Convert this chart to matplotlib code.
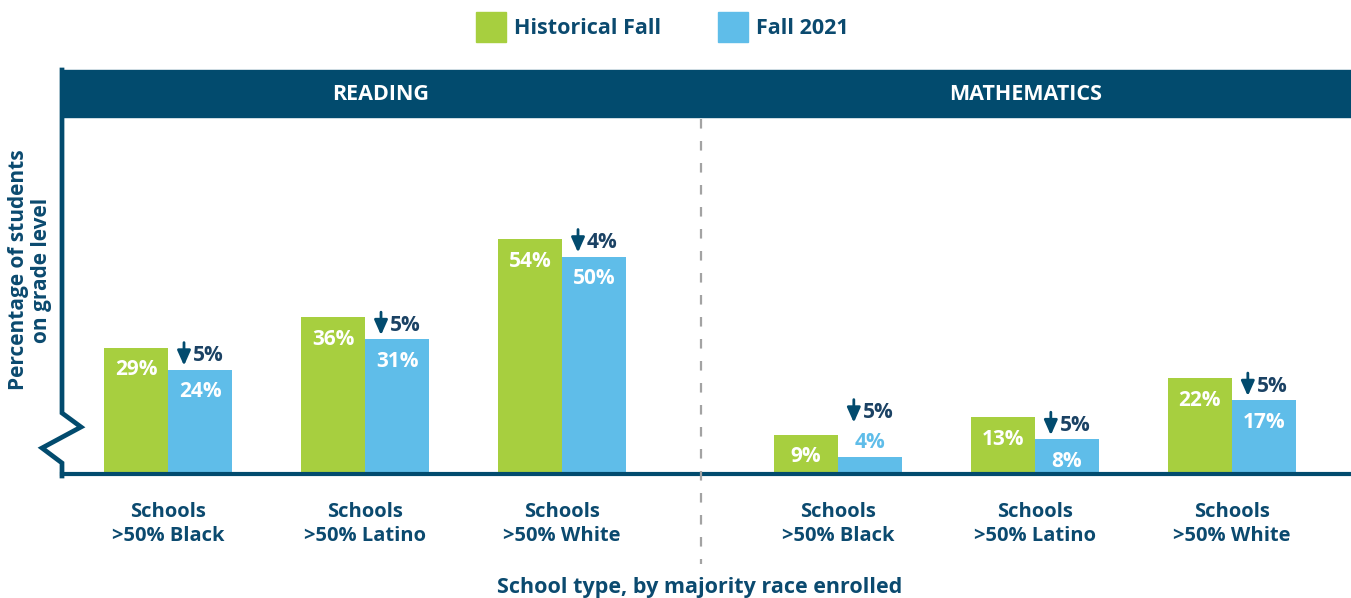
import matplotlib
matplotlib.use("Agg")
import matplotlib.pyplot as plt
from matplotlib.lines import Line2D
from matplotlib.patches import Rectangle, FancyArrowPatch
import numpy as np

plt.rcParams['font.family'] = ['Open Sans', 'DejaVu Sans']
plt.rcParams['font.weight'] = 'bold'

# ---- data ----
subjects = ["READING", "MATHEMATICS"]
school_types = ["Schools\n>50% Black", "Schools\n>50% Latino", "Schools\n>50% White"]
historical_fall = [29, 36, 54, 9, 13, 22]
fall_2021 = [24, 31, 50, 4, 8, 17]
drop = [5, 5, 4, 5, 5, 5]
series_names = ["Historical Fall", "Fall 2021"]

# ---- style ----
NAVY = "#024b6e"
TEXT = "#0b4a6f"
CHG = "#1b4264"
GREEN = "#a7cf3f"
BLUE = "#5fbde9"
GRAY = "#a3a3a3"

W, H = 1351, 598
fig = plt.figure(figsize=(W / 100, H / 100), dpi=100)

def fx(px):
    return px / W

def fy(py):
    return (H - py) / H

PX_PER = 4.35
ax = fig.add_axes([fx(62), fy(474), fx(1351 - 62), (474 - 117) / H])
ax.set_ylim(0, (474 - 117) / PX_PER)
ax.set_xlim(-0.538, 6.005)

pos = np.r_[np.arange(3), np.arange(3) + 3.4]
bw = 0.325
ax.bar(pos - bw / 2, historical_fall, width=bw, color=GREEN, zorder=2)
ax.bar(pos + bw / 2, fall_2021, width=bw, color=BLUE, zorder=2)

for sp in ["top", "right", "left"]:
    ax.spines[sp].set_visible(False)
ax.spines["bottom"].set_color(NAVY)
ax.spines["bottom"].set_linewidth(3)
ax.spines["bottom"].set_zorder(3)
ax.set_yticks([])
ax.set_xticks(pos)
ax.set_xticklabels(school_types * 2, fontsize=14.5, color=TEXT, fontweight='bold', linespacing=1.25)
ax.tick_params(axis='x', length=0, pad=20)

lab_fs = 15
inv = fig.transFigure.inverted()
for i, (h, f, d) in enumerate(zip(historical_fall, fall_2021, drop)):
    xh = pos[i] - bw / 2
    xf = pos[i] + bw / 2
    ax.annotate(f"{h}%", (xh, h), xytext=(0, -22), textcoords='offset pixels',
                ha='center', va='center', color='white', fontsize=lab_fs, fontweight='bold')
    extra = 0
    if f < 7:
        ax.annotate(f"{f}%", (xf, f), xytext=(0, 14), textcoords='offset pixels',
                    ha='center', va='center', color=BLUE, fontsize=lab_fs, fontweight='bold')
        extra = 30
    else:
        ax.annotate(f"{f}%", (xf, f), xytext=(0, -22), textcoords='offset pixels',
                    ha='center', va='center', color='white', fontsize=lab_fs, fontweight='bold')
    # drop arrow, placed relative to the Fall 2021 bar top
    start = ax.transData.transform((xf, f))
    tail = inv.transform(start + np.array([-16, 27 + extra]))
    tip = inv.transform(start + np.array([-16, 4 + extra]))
    fig.add_artist(FancyArrowPatch(
        tail, tip, transform=fig.transFigure,
        arrowstyle='-|>,head_length=0.9,head_width=0.4',
        mutation_scale=10, color=NAVY, linewidth=2.0, shrinkA=0, shrinkB=0))
    ax.annotate(f"{d}%", (xf, f), xytext=(-7, 14 + extra), textcoords='offset pixels',
                ha='left', va='center', color=CHG, fontsize=lab_fs, fontweight='bold')

# header band
fig.add_artist(Rectangle((fx(62), fy(117)), fx(1351 - 62), (117 - 70) / H,
                         transform=fig.transFigure, color=NAVY, zorder=1))
fig.text(fx(381), fy(95), subjects[0], ha='center', va='center', color='white',
         fontsize=15.5, fontweight='bold')
fig.text(fx(1026), fy(95), subjects[1], ha='center', va='center', color='white',
         fontsize=15.5, fontweight='bold')

# left axis with break
lx = [62, 62, 81, 42, 62, 62]
ly = [70, 413, 427, 448, 463, 476]
fig.add_artist(Line2D([fx(v) for v in lx], [fy(v) for v in ly], transform=fig.transFigure,
                      color=NAVY, linewidth=3.4, solid_joinstyle='miter'))

# divider
fig.add_artist(Line2D([fx(700.5), fx(700.5)], [fy(119), fy(564)], transform=fig.transFigure,
                      color=GRAY, linewidth=1.6, dashes=(4.3, 5.6), zorder=0.5))

# legend
for x0, name, col in [(476, series_names[0], GREEN), (718, series_names[1], BLUE)]:
    fig.add_artist(Rectangle((fx(x0), fy(42)), fx(30), 30 / H, transform=fig.transFigure,
                             color=col))
    fig.text(fx(x0 + 38), fy(29), name, ha='left', va='center', color=TEXT,
             fontsize=15.5, fontweight='bold')

# axis titles
fig.text(fx(700), fy(588), "School type, by majority race enrolled", ha='center', va='center',
         color=TEXT, fontsize=15.5, fontweight='bold')
fig.text(fx(30), fy(270), "Percentage of students\non grade level", ha='center', va='center',
         rotation=90, color=TEXT, fontsize=15, fontweight='bold', linespacing=1.15)

fig.savefig("out.png", dpi=100)
